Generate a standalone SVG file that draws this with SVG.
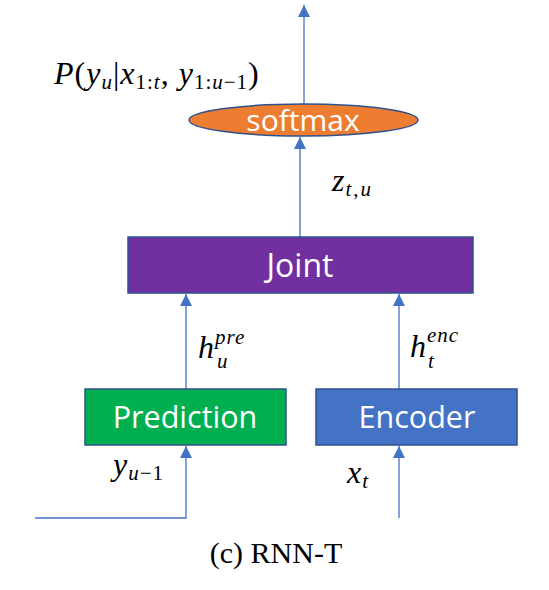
<svg xmlns="http://www.w3.org/2000/svg" width="549" height="590" viewBox="0 0 549 590">
<style>
.box{stroke:#2F528F;stroke-width:1.5}
.lbl{font-family:"Open Sans","Noto Sans","DejaVu Sans",sans-serif;fill:#fff;text-anchor:middle}
.m{font-family:"Liberation Serif","DejaVu Serif",serif;font-style:italic;fill:#000;font-size:32px;letter-spacing:1px}
.s{font-size:21px}
.r{font-style:normal}
.c{stroke:#4472C4;stroke-width:1.3;fill:none}
</style>
<defs>
<marker id="ah" markerWidth="12" markerHeight="12" refX="10" refY="5" orient="auto" markerUnits="userSpaceOnUse" viewBox="0 0 10 10">
<path d="M0,0 L10,5 L0,10 Z" fill="#4472C4"/>
</marker>
</defs>
<rect width="549" height="590" fill="#fff"/>
<g id="connectors">
<line class="c" x1="304" y1="104" x2="304" y2="5" marker-end="url(#ah)"/>
<line class="c" x1="300" y1="237" x2="300" y2="137" marker-end="url(#ah)"/>
<line class="c" x1="186" y1="389" x2="186" y2="294" marker-end="url(#ah)"/>
<line class="c" x1="399" y1="389" x2="399" y2="294" marker-end="url(#ah)"/>
<polyline class="c" points="35,518 186,518 186,446" marker-end="url(#ah)"/>
<line class="c" x1="399" y1="518" x2="399" y2="446" marker-end="url(#ah)"/>
</g>
<g id="softmax">
<ellipse class="box" cx="303.5" cy="120" rx="114.5" ry="16" fill="#ED7D31"/>
<text class="lbl" x="303" y="131" font-size="30">softmax</text>
</g>
<g id="joint">
<rect class="box" x="128" y="237" width="345" height="56" fill="#7030A0"/>
<text class="lbl" x="300" y="277" font-size="32">Joint</text>
</g>
<g id="prediction">
<rect class="box" x="85" y="389" width="201" height="56" fill="#00B050"/>
<text class="lbl" x="185" y="428" font-size="30.5">Prediction</text>
</g>
<g id="encoder">
<rect class="box" x="316" y="389" width="201" height="56" fill="#4472C4"/>
<text class="lbl" x="417" y="428" font-size="30.5">Encoder</text>
</g>
<g id="labels">
<text class="m" x="54" y="84" letter-spacing="1.8">P<tspan class="r">(</tspan>y<tspan class="s" dy="5">u</tspan><tspan class="r" dy="-5">|</tspan>x<tspan class="s" dy="5"><tspan class="r">1:</tspan>t</tspan><tspan class="r" dy="-5">, </tspan>y<tspan class="s" dy="5"><tspan class="r">1:</tspan>u<tspan class="r">−1</tspan></tspan><tspan class="r" dy="-5">)</tspan></text>
<text class="m" x="332" y="191">z<tspan class="s" dy="5" letter-spacing="2">t<tspan class="r">,</tspan>u</tspan></text>
<text class="m" x="198" y="358">h<tspan class="s" dy="-14">pre</tspan></text>
<text class="m s" x="217" y="368">u</text>
<text class="m" x="410" y="357">h<tspan class="s" dy="-15">enc</tspan></text>
<text class="m s" x="428" y="368">t</text>
<text class="m" x="113" y="475">y<tspan class="s" dy="5">u<tspan class="r">−1</tspan></tspan></text>
<text class="m" x="347" y="483">x<tspan class="s" dy="5">t</tspan></text>
<text x="276" y="563" font-family="Liberation Serif,serif" font-size="30" text-anchor="middle" fill="#000">(c) RNN-T</text>
</g>
</svg>
